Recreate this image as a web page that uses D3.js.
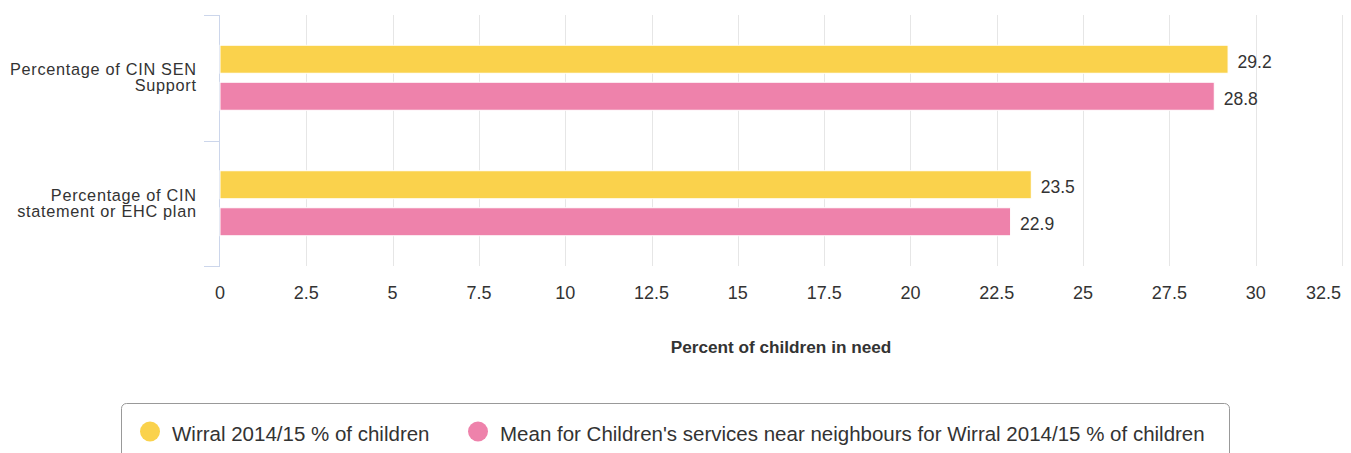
<!DOCTYPE html>
<html><head><meta charset="utf-8">
<script src="https://cdn.jsdelivr.net/npm/d3@7"></script>
<style>body{margin:0;background:#fff;} svg text{font-family:"Liberation Sans",Arial,Helvetica,sans-serif;}</style>
</head><body>
<svg id="c" width="1351" height="453"></svg>
<script>
const categories = [["Percentage of CIN SEN","Support"],["Percentage of CIN","statement or EHC plan"]];
const seriesNames = ["Wirral 2014/15 % of children","Mean for Children's services near neighbours for Wirral 2014/15 % of children"];
const wirral = [29.2, 23.5];
const neighbours = [28.8, 22.9];
const ticks = [0,2.5,5,7.5,10,12.5,15,17.5,20,22.5,25,27.5,30,32.5];
const colors = ["#FAD24C","#EE82AB"];
const axisTitle = "Percent of children in need";

(function(){
const svg = d3.select("#c");
const L = 220, R = 1342, T = 15, B = 266;
const x = d3.scaleLinear().domain([0,32.5]).range([L,R]);
const y = d3.scaleBand().domain(d3.range(categories.length)).range([T,B]);
const inner = d3.scaleBand().domain([0,1]).range([0,y.bandwidth()]).paddingInner(0.243).paddingOuter(0.817);

// gridlines
svg.append("g").selectAll("line").data(ticks.slice(1)).join("line")
  .attr("x1",d=>Math.round(x(d))+0.5).attr("x2",d=>Math.round(x(d))+0.5).attr("y1",T).attr("y2",B)
  .attr("stroke","#e6e6e6").attr("stroke-width",1);

// y axis line + ticks
svg.append("line").attr("x1",L-0.5).attr("x2",L-0.5).attr("y1",T).attr("y2",B).attr("stroke","#ccd6eb");
const yTicks = [T, T+y.bandwidth(), B];
svg.append("g").selectAll("line").data(yTicks).join("line")
  .attr("x1",L-16).attr("x2",L).attr("y1",d=>Math.round(d)+0.5).attr("y2",d=>Math.round(d)+0.5).attr("stroke","#ccd6eb");

// x tick labels
const last = ticks[ticks.length-1];
svg.append("g").selectAll("text").data(ticks).join("text")
  .attr("x",d=>d===last ? 1341 : x(d)).attr("y",299).attr("text-anchor",d=>d===last?"end":"middle")
  .attr("font-size",18).attr("fill","#333").text(d=>d);

// axis title
svg.append("text").attr("x",781).attr("y",353).attr("text-anchor","middle")
  .attr("font-size",17.2).attr("font-weight","bold").attr("fill","#333").text(axisTitle);

// category labels
categories.forEach((lines,i)=>{
  const cy = y(i)+y.bandwidth()/2;
  const t = svg.append("text").attr("text-anchor","end").attr("font-size",16.3)
    .attr("letter-spacing","0.7px").attr("fill","#333");
  lines.forEach((l,j)=>{
    t.append("tspan").attr("x",196.7).attr("y",cy - 2.5 + j*16).text(l);
  });
});

// bars
const series = [wirral, neighbours];
series.forEach((vals,s)=>{
  const g = svg.append("g");
  g.selectAll("rect").data(vals).join("rect")
    .attr("x",x(0)).attr("y",(d,i)=>y(i)+inner(s))
    .attr("width",d=>x(d)-x(0)).attr("height",inner.bandwidth())
    .attr("fill",colors[s]).attr("stroke","#fff").attr("stroke-width",1);
  g.selectAll("text").data(vals).join("text")
    .attr("x",d=>x(d)+9.5).attr("y",(d,i)=>y(i)+inner(s)+inner.bandwidth()/2+8.5)
    .attr("font-size",17.5).attr("fill","#333").text(d=>d.toFixed(1));
});

// legend
svg.append("rect").attr("x",121.5).attr("y",403.5).attr("width",1108).attr("height",60).attr("rx",5)
  .attr("fill","#fff").attr("stroke","#999");
const lg = [{cx:150,tx:172},{cx:478,tx:500}];
seriesNames.forEach((n,i)=>{
  svg.append("circle").attr("cx",lg[i].cx).attr("cy",431.5).attr("r",10).attr("fill",colors[i]);
  svg.append("text").attr("x",lg[i].tx).attr("y",441).attr("font-size",20.5).attr("fill","#333").text(n);
});
})();
</script>
</body></html>
